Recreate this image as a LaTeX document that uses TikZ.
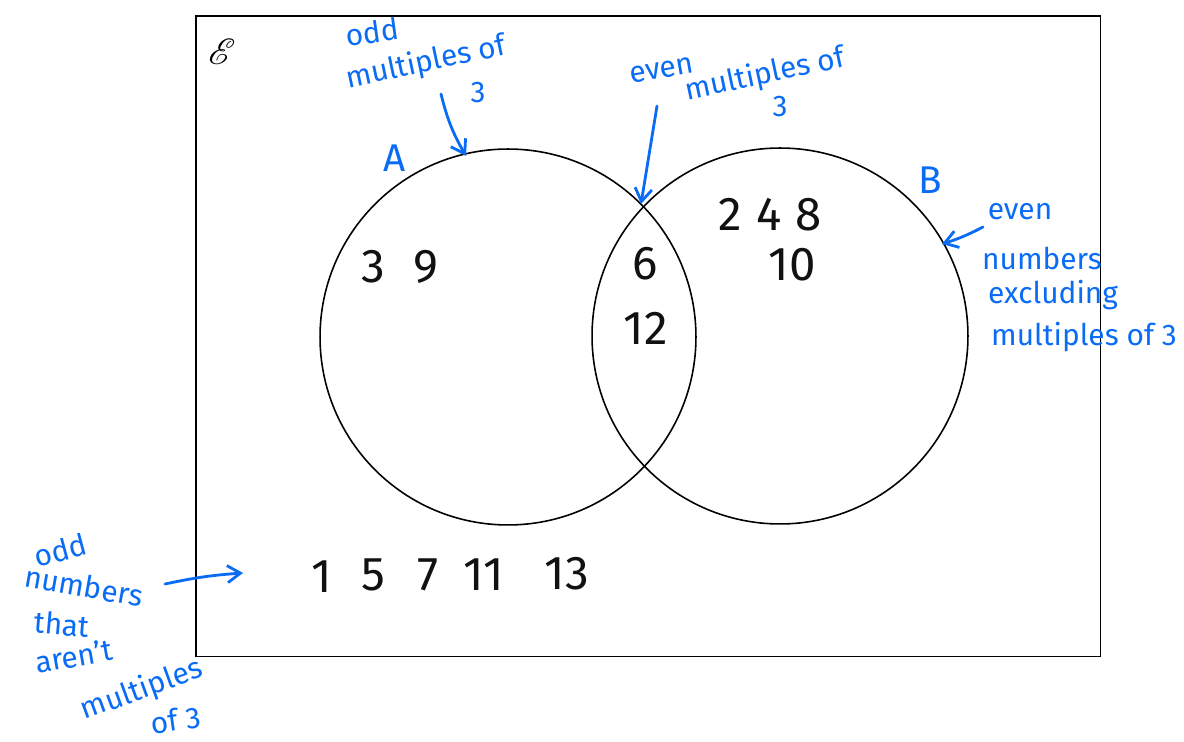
\documentclass[tikz,border=0pt]{standalone}
\usepackage{fontspec}
\usepackage{mathrsfs}
\setsansfont{Fira Sans}
\usetikzlibrary{arrows.meta}
\definecolor{PenBlue}{HTML}{0A6CF5}
\definecolor{PenBlack}{HTML}{111111}

\begin{document}
\begin{tikzpicture}[
    x=0.02cm,y=-0.02cm,
    setline/.style={draw=black,line width=0.9pt},
    note/.style={text=PenBlue,font=\sffamily\fontsize{17}{17}\selectfont,inner sep=0pt},
    setname/.style={text=PenBlue,font=\sffamily\fontsize{22}{22}\selectfont,inner sep=0pt},
    elem/.style={text=PenBlack,font=\sffamily\fontseries{l}\fontsize{27}{27}\selectfont,inner sep=0pt},
    pointer/.style={-{Straight Barb[length=2.6mm,width=3.4mm]},draw=PenBlue,
      line width=1.6pt,line cap=round}
  ]
  \useasboundingbox (0,0) rectangle (1184,742);

  % universal set and the two sets
  \node[setline,rectangle,minimum width=18.1cm,minimum height=12.82cm,
    anchor=north west,inner sep=0pt] (U) at (195,15) {};
  \node[font=\fontsize{22}{22}\selectfont] (Ulbl) at (222,52) {$\mathscr{E}$};
  \node[setline,circle,minimum size=7.52cm,inner sep=0pt] (A) at (508,337) {};
  \node[setline,circle,minimum size=7.52cm,inner sep=0pt] (B) at (780,336) {};
  \node[setname] (Albl) at (395,158) {A};
  \node[setname] (Blbl) at (930,180) {B};

  % elements
  \node[elem] (e39) at (400,267) {3\hspace{0.6em}9};
  \node[elem] (e6) at (645,264) {6};
  \node[elem] (e12) at (646,328) {12};
  \node[elem] (e248) at (770,215) {2\hspace{0.3em}4\hspace{0.3em}8};
  \node[elem] (e10) at (792,265) {10};
  \node[elem] (e1) at (322,577) {1};
  \node[elem] (e5) at (373,575) {5};
  \node[elem] (e7) at (428,575) {7};
  \node[elem] (e11) at (484,575) {11};
  \node[elem] (e13) at (567,574) {13};

  % notes on A
  \node[note,rotate=8] (nA1) at (372,32) {odd};
  \node[note,rotate=12] (nA2) at (426,63) {multiples of};
  \node[note] (nA3) at (478,93) {3};
  \coordinate (tA) at (466,156);
  \draw[pointer] (441,94) to[bend right=8] (tA);

  % notes on the overlap
  \node[note,rotate=10] (nAB1) at (662,70) {even};
  \node[note,rotate=12] (nAB2) at (765,75) {multiples of};
  \node[note] (nAB3) at (780,107) {3};
  \coordinate (tAB) at (641,204);
  \draw[pointer] (657,106) -- (tAB);

  % notes on B
  \node[note] (nB1) at (1020,212) {even};
  \node[note] (nB2) at (1042,258) {numbers};
  \node[note] (nB3) at (1053,295) {excluding};
  \node[note] (nB4) at (1084,337) {multiples of 3};
  \coordinate (tB) at (942,244);
  \draw[pointer] (983,227) to[bend left=5] (tB);

  % notes on the rest
  \node[note,rotate=15] (nR1) at (60,550) {odd};
  \node[note,rotate=-10] (nR2) at (84,586) {numbers};
  \node[note,rotate=-5] (nR3) at (62,624) {that};
  \node[note,rotate=10] (nR4) at (74,656) {aren't};
  \node[note,rotate=20] (nR5) at (142,690) {multiples};
  \node[note,rotate=8] (nR6) at (176,720) {of 3};
  \coordinate (tR) at (243,573);
  \draw[pointer] (165,584) to[bend left=4] (tR);
\end{tikzpicture}
\end{document}
